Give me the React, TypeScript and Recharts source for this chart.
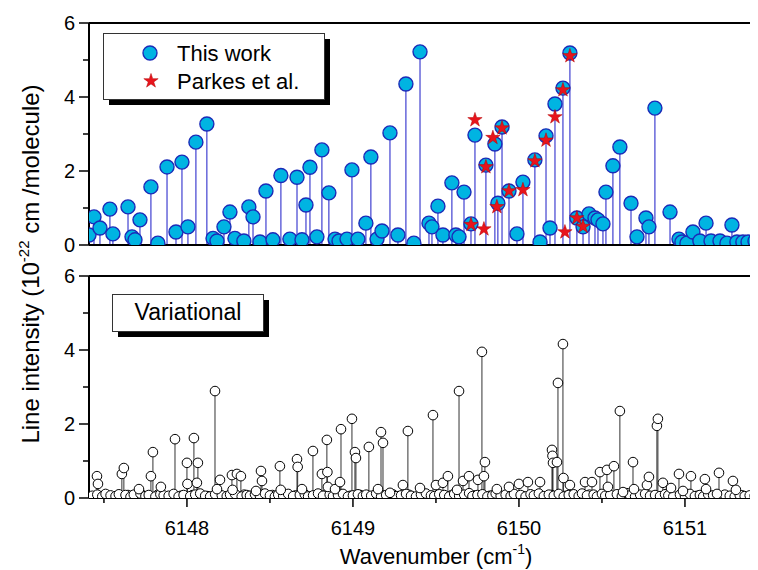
import React from 'react';
import { ScatterChart, Scatter, XAxis, YAxis, ErrorBar, ReferenceLine, Symbols } from 'recharts';

const FONT = 'Liberation Sans, Arial, Helvetica, sans-serif';

const X_DOMAIN: [number, number] = [6147.41, 6151.44];
const X_TICKS = [6147.5, 6148, 6148.5, 6149, 6149.5, 6150, 6150.5, 6151];
const Y_TICKS = [0, 1, 2, 3, 4, 5, 6];

// "This work" (top panel)
const thisWorkWn = [
  6147.41, 6147.44, 6147.476, 6147.536, 6147.554, 6147.645, 6147.669, 6147.687, 6147.717, 6147.783,
  6147.825, 6147.88, 6147.934, 6147.97, 6148.006, 6148.054, 6148.12, 6148.157, 6148.181, 6148.223,
  6148.259, 6148.289, 6148.343, 6148.373, 6148.398, 6148.44, 6148.476, 6148.518, 6148.566, 6148.62,
  6148.663, 6148.693, 6148.717, 6148.741, 6148.783, 6148.813, 6148.855, 6148.892, 6148.916, 6148.964,
  6148.994, 6149.03, 6149.078, 6149.108, 6149.145, 6149.175, 6149.223, 6149.271, 6149.319, 6149.367,
  6149.404, 6149.458, 6149.476, 6149.512, 6149.542, 6149.596, 6149.62, 6149.639, 6149.669, 6149.711,
  6149.735, 6149.801, 6149.855, 6149.873, 6149.898, 6149.94, 6149.988, 6150.024, 6150.096, 6150.127,
  6150.163, 6150.187, 6150.217, 6150.265, 6150.307, 6150.349, 6150.386, 6150.422, 6150.458, 6150.476,
  6150.506, 6150.524, 6150.566, 6150.608, 6150.675, 6150.711, 6150.765, 6150.783, 6150.819, 6150.91,
  6150.964, 6150.982, 6151.012, 6151.048, 6151.09, 6151.127, 6151.157, 6151.211, 6151.253, 6151.283,
  6151.313, 6151.349, 6151.38, 6151.422, 6151.44,
];
const thisWorkInt = [
  0.27, 0.76, 0.46, 0.97, 0.3, 1.03, 0.22, 0.14, 0.68, 1.57,
  0.05, 2.11, 0.35, 2.24, 0.49, 2.78, 3.27, 0.18, 0.11, 0.49,
  0.89, 0.18, 0.11, 1.03, 0.76, 0.08, 1.46, 0.14, 1.88, 0.16,
  1.83, 0.14, 1.08, 2.1, 0.22, 2.57, 1.41, 0.16, 0.11, 0.16,
  2.03, 0.16, 0.59, 2.38, 0.16, 0.38, 3.03, 0.27, 4.35, 0.05,
  5.22, 0.59, 0.49, 1.05, 0.27, 1.68, 0.27, 0.22, 1.43, 0.57,
  2.97, 2.16, 2.73, 1.13, 3.19, 1.46, 0.3, 1.7, 2.3, 0.08,
  2.95, 0.46, 3.81, 4.24, 5.19, 0.73, 0.49, 0.84, 0.73, 0.68,
  0.57, 1.43, 2.14, 2.65, 1.13, 0.22, 0.73, 0.49, 3.7, 0.89,
  0.16, 0.08, 0.05, 0.35, 0.11, 0.59, 0.11, 0.11, 0.05, 0.54,
  0.08, 0.08, 0.08, 0.11, 0.27,
];

// Parkes et al. (top panel)
const parkesWn = [
  6149.711, 6149.735, 6149.789, 6149.801, 6149.843, 6149.867, 6149.898, 6149.94, 6150.024,
  6150.096, 6150.163, 6150.217, 6150.265, 6150.277, 6150.307, 6150.349, 6150.386,
];
const parkesInt = [
  0.55, 3.38, 0.43, 2.11, 2.9, 1.03, 3.16, 1.46, 1.49,
  2.27, 2.83, 3.46, 4.19, 0.35, 5.11, 0.73, 0.5,
];

// Variational (bottom panel), visible lines
const variationalWn = [
  6147.458, 6147.464, 6147.608, 6147.62, 6147.711, 6147.783, 6147.795, 6147.843, 6147.928, 6148.0,
  6148.003, 6148.042, 6148.06, 6148.066, 6148.169, 6148.181, 6148.199, 6148.271, 6148.275, 6148.301,
  6148.325, 6148.416, 6148.446, 6148.452, 6148.56, 6148.565, 6148.663, 6148.667, 6148.693, 6148.759,
  6148.813, 6148.843, 6148.846, 6148.849, 6148.892, 6148.922, 6148.928, 6148.994, 6149.012, 6149.018,
  6149.096, 6149.151, 6149.169, 6149.181, 6149.223, 6149.301, 6149.331, 6149.404, 6149.482, 6149.5,
  6149.542, 6149.572, 6149.627, 6149.639, 6149.663, 6149.699, 6149.753, 6149.777, 6149.789, 6149.795,
  6149.867, 6149.94, 6150.0, 6150.054, 6150.127, 6150.199, 6150.202, 6150.205, 6150.229, 6150.235,
  6150.265, 6150.268, 6150.307, 6150.398, 6150.44, 6150.488, 6150.53, 6150.536, 6150.572, 6150.608,
  6150.627, 6150.687, 6150.693, 6150.771, 6150.783, 6150.831, 6150.837, 6150.867, 6150.916, 6150.964,
  6150.988, 6151.036, 6151.12, 6151.127, 6151.193, 6151.205, 6151.289, 6151.307, 6151.43,
];
const variationalInt = [
  0.59, 0.38, 0.65, 0.81, 0.24, 0.59, 1.24, 0.3, 1.59, 0.95,
  0.38, 1.62, 0.41, 0.95, 2.89, 0.24, 0.49, 0.62, 0.22, 0.65,
  0.59, 0.19, 0.73, 0.46, 0.86, 0.22, 1.05, 0.84, 0.24, 1.27,
  0.65, 1.57, 0.7, 0.3, 0.24, 0.43, 1.86, 2.14, 1.24, 1.08,
  1.38, 0.24, 1.78, 1.49, 0.14, 0.35, 1.81, 0.27, 2.24, 0.35,
  0.41, 0.59, 0.22, 2.89, 0.46, 0.59, 0.49, 3.95, 0.59, 0.97,
  0.24, 0.3, 0.38, 0.43, 0.43, 1.3, 1.14, 0.95, 0.97, 3.11,
  4.16, 0.54, 0.35, 0.43, 0.43, 0.7, 0.76, 0.3, 0.86, 2.35,
  0.16, 0.97, 0.24, 0.35, 0.57, 1.95, 2.14, 0.41, 0.27, 0.65,
  0.19, 0.59, 0.51, 0.24, 0.11, 0.68, 0.46, 0.22, 0.22,
];

// Variational (bottom panel), weak lines along the baseline
const variationalWeakWn = [
  6147.43, 6147.46, 6147.49, 6147.51, 6147.54, 6147.57, 6147.59, 6147.63, 6147.66, 6147.68,
  6147.72, 6147.75, 6147.77, 6147.81, 6147.84, 6147.86, 6147.89, 6147.92, 6147.95, 6147.98,
  6148.02, 6148.05, 6148.08, 6148.11, 6148.14, 6148.17, 6148.21, 6148.24, 6148.26, 6148.29,
  6148.33, 6148.36, 6148.38, 6148.41, 6148.44, 6148.47, 6148.5, 6148.53, 6148.55, 6148.58,
  6148.61, 6148.64, 6148.68, 6148.71, 6148.73, 6148.76, 6148.79, 6148.82, 6148.86, 6148.88,
  6148.91, 6148.94, 6148.97, 6149.0, 6149.03, 6149.06, 6149.08, 6149.11, 6149.14, 6149.17,
  6149.2, 6149.24, 6149.26, 6149.29, 6149.32, 6149.35, 6149.38, 6149.41, 6149.44, 6149.47,
  6149.49, 6149.52, 6149.55, 6149.58, 6149.61, 6149.64, 6149.67, 6149.7, 6149.72, 6149.75,
  6149.78, 6149.81, 6149.84, 6149.86, 6149.89, 6149.92, 6149.95, 6149.97, 6150.01, 6150.04,
  6150.07, 6150.09, 6150.12, 6150.15, 6150.18, 6150.21, 6150.24, 6150.27, 6150.3, 6150.33,
  6150.36, 6150.38, 6150.41, 6150.45, 6150.47, 6150.5, 6150.52, 6150.55, 6150.59, 6150.62,
  6150.65, 6150.67, 6150.7, 6150.73, 6150.76, 6150.79, 6150.82, 6150.85, 6150.88, 6150.9,
  6150.93, 6150.97, 6151.0, 6151.03, 6151.06, 6151.09, 6151.11, 6151.14, 6151.17, 6151.21,
  6151.24, 6151.27, 6151.3, 6151.33, 6151.36, 6151.39, 6151.42,
];
const variationalWeakInt = [
  0.06, 0.09, 0.04, 0.11, 0.07, 0.05, 0.1, 0.08, 0.03, 0.09,
  0.12, 0.05, 0.08, 0.04, 0.1, 0.07, 0.06, 0.11, 0.04, 0.08,
  0.05, 0.09, 0.12, 0.06, 0.04, 0.1, 0.07, 0.05, 0.09, 0.11,
  0.04, 0.08, 0.06, 0.1, 0.05, 0.12, 0.07, 0.04, 0.09, 0.06,
  0.11, 0.05, 0.08, 0.1, 0.04, 0.07, 0.12, 0.06, 0.09, 0.05,
  0.08, 0.11, 0.04, 0.07, 0.1, 0.05, 0.09, 0.06, 0.12, 0.04,
  0.08, 0.1, 0.05, 0.07, 0.11, 0.06, 0.04, 0.09, 0.12, 0.07,
  0.05, 0.1, 0.08, 0.04, 0.11, 0.06, 0.09, 0.13, 0.05, 0.08,
  0.1, 0.04, 0.07, 0.12, 0.06, 0.09, 0.05, 0.11, 0.08, 0.04,
  0.1, 0.07, 0.12, 0.05, 0.09, 0.06, 0.11, 0.04, 0.08, 0.1,
  0.05, 0.12, 0.07, 0.09, 0.04, 0.11, 0.06, 0.08, 0.1, 0.05,
  0.13, 0.07, 0.04, 0.09, 0.11, 0.06, 0.08, 0.05, 0.1, 0.07,
  0.04, 0.09, 0.06, 0.11, 0.05, 0.08, 0.04, 0.1, 0.07, 0.05,
  0.09, 0.06, 0.04, 0.08, 0.05, 0.07, 0.06,
];

// Variational (bottom panel), further very weak lines
const variationalFaintWn = [
  6147.445, 6147.5, 6147.555, 6147.615, 6147.645, 6147.7, 6147.735, 6147.79, 6147.825, 6147.875,
  6147.905, 6147.965, 6148.035, 6148.095, 6148.125, 6148.19, 6148.225, 6148.31, 6148.345, 6148.395,
  6148.425, 6148.485, 6148.515, 6148.595, 6148.625, 6148.655, 6148.745, 6148.775, 6148.835, 6148.875,
  6148.955, 6148.985, 6149.045, 6149.095, 6149.125, 6149.185, 6149.225, 6149.275, 6149.335, 6149.395,
  6149.425, 6149.455, 6149.535, 6149.595, 6149.655, 6149.685, 6149.735, 6149.765, 6149.825, 6149.905,
  6149.935, 6149.985, 6150.025, 6150.055, 6150.105, 6150.165, 6150.195, 6150.255, 6150.285, 6150.345,
  6150.395, 6150.425, 6150.485, 6150.535, 6150.575, 6150.605, 6150.685, 6150.715, 6150.745, 6150.805,
  6150.865, 6150.915, 6150.955, 6150.985, 6151.045, 6151.075, 6151.125, 6151.155, 6151.195, 6151.255,
  6151.285, 6151.345, 6151.375, 6151.405,
];
const variationalFaintInt = [
  0.03, 0.07, 0.02, 0.05, 0.08, 0.03, 0.06, 0.02, 0.09, 0.04,
  0.03, 0.06, 0.08, 0.02, 0.05, 0.07, 0.03, 0.04, 0.09, 0.02,
  0.06, 0.03, 0.08, 0.05, 0.02, 0.07, 0.04, 0.03, 0.09, 0.05,
  0.02, 0.06, 0.08, 0.03, 0.04, 0.07, 0.02, 0.05, 0.09, 0.03,
  0.06, 0.04, 0.02, 0.08, 0.05, 0.03, 0.07, 0.02, 0.06, 0.04,
  0.09, 0.03, 0.05, 0.02, 0.07, 0.04, 0.08, 0.03, 0.06, 0.02,
  0.05, 0.09, 0.03, 0.07, 0.04, 0.02, 0.06, 0.08, 0.03, 0.05,
  0.02, 0.07, 0.04, 0.09, 0.03, 0.06, 0.02, 0.05, 0.08, 0.04,
  0.03, 0.07, 0.02, 0.06,
];

const toPoints = (wn: number[], val: number[]) =>
  wn.map((x, i) => ({ x, y: val[i], stem: [val[i], 0] }));

const thisWork = toPoints(thisWorkWn, thisWorkInt);
const parkes = toPoints(parkesWn, parkesInt);
const variational = toPoints(
  [...variationalFaintWn, ...variationalWeakWn, ...variationalWn],
  [...variationalFaintInt, ...variationalWeakInt, ...variationalInt]
);

const CYAN = '#00b4e2';
const CIRCLE_EDGE = '#1b2bb8';
const STEM_BLUE = '#2f2fcc';
const STAR_RED = '#e8141c';

const YTick = (props: any) => {
  const { x, y, payload } = props;
  const major = payload.value % 2 === 0;
  return (
    <g>
      <line x1={x - (major ? 10 : 6)} x2={x} y1={y} y2={y} stroke="#000" strokeWidth={1.5} />
      {major && (
        <text x={x - 14} y={y} dy="0.36em" textAnchor="end" fontSize={20} fontFamily={FONT} fill="#000">
          {payload.value}
        </text>
      )}
    </g>
  );
};

const XTick = (props: any) => {
  const { x, y, payload } = props;
  const major = Number.isInteger(payload.value);
  return (
    <g>
      <line x1={x} x2={x} y1={y} y2={y + (major ? 9 : 5)} stroke="#000" strokeWidth={1.5} />
      {major && (
        <text x={x} y={y + 37} textAnchor="middle" fontSize={20} fontFamily={FONT} fill="#000">
          {payload.value}
        </text>
      )}
    </g>
  );
};

const BlueCircle = (p: any) => (
  <circle cx={p.cx} cy={p.cy} r={7} fill={CYAN} stroke={CIRCLE_EDGE} strokeWidth={1.4} />
);
const RedStar = (p: any) => (
  <Symbols cx={p.cx} cy={p.cy} type="star" size={64} fill={STAR_RED} stroke="#b40000" strokeWidth={0.5} />
);
const OpenCircle = (p: any) => (
  <circle cx={p.cx} cy={p.cy} r={4.8} fill="#fff" stroke="#000" strokeWidth={1} />
);

export default function App() {
  return (
    <div style={{ position: 'relative', width: 758, height: 570, margin: '-8px 0 0 -8px', background: '#fff', overflow: 'hidden' }}>
      <div style={{ position: 'absolute', left: 0, top: 0 }}>
        <ScatterChart width={758} height={262} margin={{ top: 23, right: 0, bottom: 0, left: 0 }}>
          <XAxis
            dataKey="x"
            type="number"
            domain={X_DOMAIN}
            allowDataOverflow
            tick={false}
            tickLine={false}
            height={17}
            axisLine={{ stroke: '#000', strokeWidth: 2 }}
          />
          <YAxis
            dataKey="y"
            type="number"
            domain={[0, 6]}
            allowDataOverflow
            ticks={Y_TICKS}
            interval={0}
            width={89}
            tickSize={0}
            tickMargin={0}
            tickLine={false}
            tick={<YTick />}
            axisLine={{ stroke: '#000', strokeWidth: 2 }}
          />
          <ReferenceLine y={6} stroke="#000" strokeWidth={2} />
          <Scatter data={thisWork} shape={<BlueCircle />} isAnimationActive={false}>
            <ErrorBar dataKey="stem" direction="y" width={0} stroke={STEM_BLUE} strokeWidth={1.1} isAnimationActive={false} />
          </Scatter>
          <Scatter data={parkes} shape={<RedStar />} isAnimationActive={false} />
        </ScatterChart>
      </div>
      <div style={{ position: 'absolute', left: 0, top: 250 }}>
        <ScatterChart width={758} height={320} margin={{ top: 26, right: 0, bottom: 0, left: 0 }}>
          <XAxis
            dataKey="x"
            type="number"
            domain={X_DOMAIN}
            allowDataOverflow
            ticks={X_TICKS}
            interval={0}
            height={72}
            tickSize={0}
            tickMargin={0}
            tickLine={false}
            tick={<XTick />}
            axisLine={{ stroke: '#000', strokeWidth: 2 }}
          />
          <YAxis
            dataKey="y"
            type="number"
            domain={[0, 6]}
            allowDataOverflow
            ticks={Y_TICKS}
            interval={0}
            width={89}
            tickSize={0}
            tickMargin={0}
            tickLine={false}
            tick={<YTick />}
            axisLine={{ stroke: '#000', strokeWidth: 2 }}
          />
          <ReferenceLine y={6} stroke="#000" strokeWidth={2} />
          <Scatter data={variational} shape={<OpenCircle />} isAnimationActive={false}>
            <ErrorBar dataKey="stem" direction="y" width={0} stroke="#333" strokeWidth={1} isAnimationActive={false} />
          </Scatter>
        </ScatterChart>
      </div>
      <svg
        width={758}
        height={570}
        style={{ position: 'absolute', left: 0, top: 0, pointerEvents: 'none' }}
        fontFamily={FONT}
      >
        {/* Legend top */}
        <rect x={109} y={39} width={221} height={66} fill="#000" />
        <rect x={103.5} y={33.5} width={221} height={66} fill="#fff" stroke="#333" strokeWidth={1} />
        <circle cx={150} cy={53} r={7} fill={CYAN} stroke={CIRCLE_EDGE} strokeWidth={1.4} />
        <text x={177} y={61} fontSize={22} fill="#000">This work</text>
        <Symbols cx={151} cy={81} type="star" size={64} fill={STAR_RED} stroke="#b40000" strokeWidth={0.5} />
        <text x={177} y={89} fontSize={22} fill="#000">Parkes et al.</text>

        {/* Variational label */}
        <rect x={118} y={300} width={151} height={37} fill="#000" />
        <rect x={112.5} y={294.5} width={151} height={37} fill="#fff" stroke="#333" strokeWidth={1} />
        <text x={188} y={320} fontSize={23} textAnchor="middle" fill="#000">Variational</text>

        {/* Y axis title */}
        <text x={39} y={264} fontSize={24} textAnchor="middle" transform="rotate(-90 39 264)" fill="#000">
          Line intensity (10
          <tspan fontSize={15} dy={-10}>-22</tspan>
          <tspan dy={10}> cm /molecule)</tspan>
        </text>

        {/* X axis title */}
        <text x={436} y={564} fontSize={22} textAnchor="middle" fill="#000">
          Wavenumber (cm
          <tspan fontSize={14} dy={-10}>-1</tspan>
          <tspan dy={10}>)</tspan>
        </text>
      </svg>
    </div>
  );
}
